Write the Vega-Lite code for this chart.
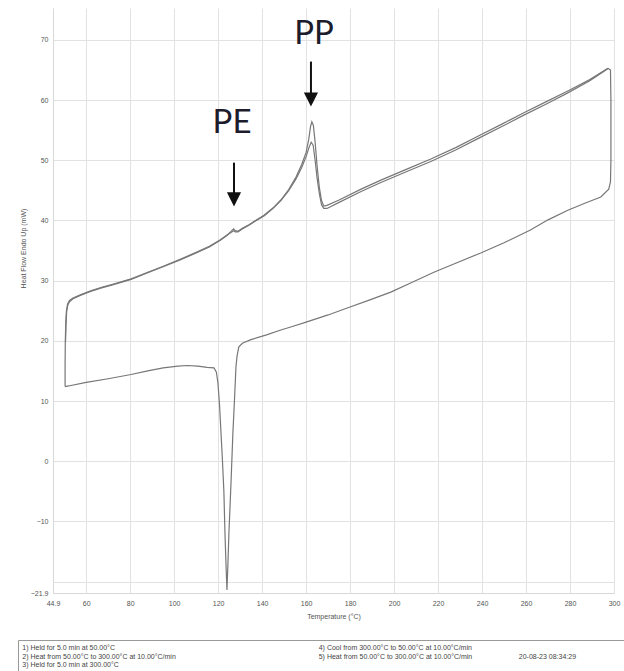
{
  "$schema": "https://vega.github.io/schema/vega-lite/v6.json",
  "padding": {"left": 17, "top": 8, "right": 0, "bottom": 0},
  "autosize": {"type": "pad"},
  "background": "white",
  "spacing": 20,
  "config": {
    "font": "Liberation Sans",
    "view": {"stroke": null},
    "axis": {
      "grid": true, "gridColor": "#e2e2e2", "gridWidth": 1,
      "domainColor": "#d8d8d8", "ticks": false,
      "labelFontSize": 7, "labelColor": "#555", "labelFlush": false, "labelOverlap": false,
      "titleFontSize": 7, "titleFontWeight": "normal", "titleColor": "#555"
    }
  },
  "datasets": {
    "curves": [
      {"seg": "h1", "i": 1, "T": 50.6, "HF": 19.8},
      {"seg": "h1", "i": 2, "T": 50.8, "HF": 22.5},
      {"seg": "h1", "i": 3, "T": 51.1, "HF": 24.8},
      {"seg": "h1", "i": 4, "T": 51.6, "HF": 25.9},
      {"seg": "h1", "i": 5, "T": 52.4, "HF": 26.5},
      {"seg": "h1", "i": 6, "T": 54, "HF": 27.0},
      {"seg": "h1", "i": 7, "T": 57.6, "HF": 27.6},
      {"seg": "h1", "i": 8, "T": 62, "HF": 28.2},
      {"seg": "h1", "i": 9, "T": 67, "HF": 28.8},
      {"seg": "h1", "i": 10, "T": 72, "HF": 29.3},
      {"seg": "h1", "i": 11, "T": 80.4, "HF": 30.2},
      {"seg": "h1", "i": 12, "T": 88, "HF": 31.3},
      {"seg": "h1", "i": 13, "T": 95, "HF": 32.3},
      {"seg": "h1", "i": 14, "T": 103, "HF": 33.5},
      {"seg": "h1", "i": 15, "T": 110, "HF": 34.6},
      {"seg": "h1", "i": 16, "T": 116, "HF": 35.6},
      {"seg": "h1", "i": 17, "T": 121, "HF": 36.7},
      {"seg": "h1", "i": 18, "T": 124, "HF": 37.5},
      {"seg": "h1", "i": 19, "T": 126.2, "HF": 38.3},
      {"seg": "h1", "i": 20, "T": 127, "HF": 38.6},
      {"seg": "h1", "i": 21, "T": 127.8, "HF": 38.3},
      {"seg": "h1", "i": 22, "T": 129, "HF": 38.2},
      {"seg": "h1", "i": 23, "T": 131, "HF": 38.7},
      {"seg": "h1", "i": 24, "T": 134, "HF": 39.3},
      {"seg": "h1", "i": 25, "T": 137, "HF": 40.0},
      {"seg": "h1", "i": 26, "T": 141, "HF": 40.9},
      {"seg": "h1", "i": 27, "T": 145, "HF": 42.1},
      {"seg": "h1", "i": 28, "T": 148.5, "HF": 43.4},
      {"seg": "h1", "i": 29, "T": 152, "HF": 45.1},
      {"seg": "h1", "i": 30, "T": 155.4, "HF": 47.2},
      {"seg": "h1", "i": 31, "T": 158, "HF": 49.3},
      {"seg": "h1", "i": 32, "T": 160, "HF": 51.3},
      {"seg": "h1", "i": 33, "T": 161.2, "HF": 53.5},
      {"seg": "h1", "i": 34, "T": 162, "HF": 55.6},
      {"seg": "h1", "i": 35, "T": 162.6, "HF": 56.4},
      {"seg": "h1", "i": 36, "T": 163.3, "HF": 55.8},
      {"seg": "h1", "i": 37, "T": 164.1, "HF": 53},
      {"seg": "h1", "i": 38, "T": 165, "HF": 49},
      {"seg": "h1", "i": 39, "T": 166, "HF": 45.5},
      {"seg": "h1", "i": 40, "T": 167, "HF": 43.3},
      {"seg": "h1", "i": 41, "T": 168, "HF": 42.4},
      {"seg": "h1", "i": 42, "T": 169.5, "HF": 42.5},
      {"seg": "h1", "i": 43, "T": 175, "HF": 43.4},
      {"seg": "h1", "i": 44, "T": 185, "HF": 45.2},
      {"seg": "h1", "i": 45, "T": 194, "HF": 46.7},
      {"seg": "h1", "i": 46, "T": 205, "HF": 48.4},
      {"seg": "h1", "i": 47, "T": 216.7, "HF": 50.2},
      {"seg": "h1", "i": 48, "T": 228, "HF": 52.1},
      {"seg": "h1", "i": 49, "T": 238.1, "HF": 54.0},
      {"seg": "h1", "i": 50, "T": 249, "HF": 56.0},
      {"seg": "h1", "i": 51, "T": 259, "HF": 57.9},
      {"seg": "h1", "i": 52, "T": 269, "HF": 59.7},
      {"seg": "h1", "i": 53, "T": 279, "HF": 61.5},
      {"seg": "h1", "i": 54, "T": 289, "HF": 63.4},
      {"seg": "h1", "i": 55, "T": 297.2, "HF": 65.3},
      {"seg": "c", "i": 1, "T": 297.2, "HF": 65.3},
      {"seg": "c", "i": 2, "T": 298.4, "HF": 65.0},
      {"seg": "c", "i": 3, "T": 298.6, "HF": 60},
      {"seg": "c", "i": 4, "T": 298.6, "HF": 50},
      {"seg": "c", "i": 5, "T": 298.4, "HF": 46.4},
      {"seg": "c", "i": 6, "T": 297.6, "HF": 45.2},
      {"seg": "c", "i": 7, "T": 294, "HF": 43.9},
      {"seg": "c", "i": 8, "T": 287, "HF": 42.9},
      {"seg": "c", "i": 9, "T": 279, "HF": 41.7},
      {"seg": "c", "i": 10, "T": 270, "HF": 40.1},
      {"seg": "c", "i": 11, "T": 262, "HF": 38.4},
      {"seg": "c", "i": 12, "T": 250, "HF": 36.3},
      {"seg": "c", "i": 13, "T": 239.4, "HF": 34.6},
      {"seg": "c", "i": 14, "T": 228, "HF": 32.9},
      {"seg": "c", "i": 15, "T": 218.1, "HF": 31.4},
      {"seg": "c", "i": 16, "T": 208, "HF": 29.7},
      {"seg": "c", "i": 17, "T": 198.5, "HF": 28.1},
      {"seg": "c", "i": 18, "T": 189, "HF": 26.8},
      {"seg": "c", "i": 19, "T": 179, "HF": 25.5},
      {"seg": "c", "i": 20, "T": 170, "HF": 24.3},
      {"seg": "c", "i": 21, "T": 160, "HF": 23.1},
      {"seg": "c", "i": 22, "T": 153, "HF": 22.3},
      {"seg": "c", "i": 23, "T": 148.5, "HF": 21.8},
      {"seg": "c", "i": 24, "T": 142, "HF": 21.0},
      {"seg": "c", "i": 25, "T": 134.9, "HF": 20.2},
      {"seg": "c", "i": 26, "T": 131, "HF": 19.6},
      {"seg": "c", "i": 27, "T": 129.4, "HF": 19.0},
      {"seg": "c", "i": 28, "T": 128.6, "HF": 17.5},
      {"seg": "c", "i": 29, "T": 128.1, "HF": 15.7},
      {"seg": "c", "i": 30, "T": 127.4, "HF": 10},
      {"seg": "c", "i": 31, "T": 126.7, "HF": 4.7},
      {"seg": "c", "i": 32, "T": 125.8, "HF": -4},
      {"seg": "c", "i": 33, "T": 124.9, "HF": -11.9},
      {"seg": "c", "i": 34, "T": 124.4, "HF": -17.5},
      {"seg": "c", "i": 35, "T": 124.0, "HF": -21.4},
      {"seg": "c", "i": 36, "T": 123.6, "HF": -17.5},
      {"seg": "c", "i": 37, "T": 123.1, "HF": -12},
      {"seg": "c", "i": 38, "T": 122.6, "HF": -5},
      {"seg": "c", "i": 39, "T": 121.9, "HF": 0.5},
      {"seg": "c", "i": 40, "T": 121.3, "HF": 4.7},
      {"seg": "c", "i": 41, "T": 120.6, "HF": 9.5},
      {"seg": "c", "i": 42, "T": 119.9, "HF": 13.0},
      {"seg": "c", "i": 43, "T": 119.2, "HF": 14.8},
      {"seg": "c", "i": 44, "T": 118.1, "HF": 15.5},
      {"seg": "c", "i": 45, "T": 115, "HF": 15.6},
      {"seg": "c", "i": 46, "T": 110.8, "HF": 15.8},
      {"seg": "c", "i": 47, "T": 106, "HF": 15.9},
      {"seg": "c", "i": 48, "T": 101.7, "HF": 15.8},
      {"seg": "c", "i": 49, "T": 95, "HF": 15.5},
      {"seg": "c", "i": 50, "T": 88, "HF": 15.0},
      {"seg": "c", "i": 51, "T": 80.4, "HF": 14.4},
      {"seg": "c", "i": 52, "T": 70, "HF": 13.7},
      {"seg": "c", "i": 53, "T": 60, "HF": 13.1},
      {"seg": "c", "i": 54, "T": 52, "HF": 12.5},
      {"seg": "c", "i": 55, "T": 50.4, "HF": 12.4},
      {"seg": "h2", "i": 1, "T": 50.4, "HF": 12.4},
      {"seg": "h2", "i": 2, "T": 50.4, "HF": 16},
      {"seg": "h2", "i": 3, "T": 50.5, "HF": 20},
      {"seg": "h2", "i": 4, "T": 50.7, "HF": 23},
      {"seg": "h2", "i": 5, "T": 51.0, "HF": 25},
      {"seg": "h2", "i": 6, "T": 51.5, "HF": 26.1},
      {"seg": "h2", "i": 7, "T": 52.4, "HF": 26.7},
      {"seg": "h2", "i": 8, "T": 54, "HF": 27.1},
      {"seg": "h2", "i": 9, "T": 57.6, "HF": 27.7},
      {"seg": "h2", "i": 10, "T": 62, "HF": 28.3},
      {"seg": "h2", "i": 11, "T": 67, "HF": 28.9},
      {"seg": "h2", "i": 12, "T": 72, "HF": 29.4},
      {"seg": "h2", "i": 13, "T": 80.4, "HF": 30.3},
      {"seg": "h2", "i": 14, "T": 88, "HF": 31.4},
      {"seg": "h2", "i": 15, "T": 95, "HF": 32.4},
      {"seg": "h2", "i": 16, "T": 103, "HF": 33.6},
      {"seg": "h2", "i": 17, "T": 110, "HF": 34.7},
      {"seg": "h2", "i": 18, "T": 116, "HF": 35.7},
      {"seg": "h2", "i": 19, "T": 121, "HF": 36.8},
      {"seg": "h2", "i": 20, "T": 124, "HF": 37.6},
      {"seg": "h2", "i": 21, "T": 126.2, "HF": 38.1},
      {"seg": "h2", "i": 22, "T": 127, "HF": 38.3},
      {"seg": "h2", "i": 23, "T": 127.8, "HF": 38.1},
      {"seg": "h2", "i": 24, "T": 129, "HF": 38.1},
      {"seg": "h2", "i": 25, "T": 131, "HF": 38.6},
      {"seg": "h2", "i": 26, "T": 134, "HF": 39.2},
      {"seg": "h2", "i": 27, "T": 137, "HF": 39.9},
      {"seg": "h2", "i": 28, "T": 141, "HF": 40.8},
      {"seg": "h2", "i": 29, "T": 145, "HF": 42.0},
      {"seg": "h2", "i": 30, "T": 148.5, "HF": 43.3},
      {"seg": "h2", "i": 31, "T": 152, "HF": 44.9},
      {"seg": "h2", "i": 32, "T": 155.4, "HF": 46.9},
      {"seg": "h2", "i": 33, "T": 158, "HF": 48.8},
      {"seg": "h2", "i": 34, "T": 160, "HF": 50.6},
      {"seg": "h2", "i": 35, "T": 161.3, "HF": 52.1},
      {"seg": "h2", "i": 36, "T": 162.3, "HF": 53.0},
      {"seg": "h2", "i": 37, "T": 163.2, "HF": 52.5},
      {"seg": "h2", "i": 38, "T": 164.1, "HF": 50},
      {"seg": "h2", "i": 39, "T": 165, "HF": 47},
      {"seg": "h2", "i": 40, "T": 166, "HF": 44.5},
      {"seg": "h2", "i": 41, "T": 167, "HF": 42.6},
      {"seg": "h2", "i": 42, "T": 168, "HF": 42.0},
      {"seg": "h2", "i": 43, "T": 169.5, "HF": 42.0},
      {"seg": "h2", "i": 44, "T": 175, "HF": 43.0},
      {"seg": "h2", "i": 45, "T": 185, "HF": 44.8},
      {"seg": "h2", "i": 46, "T": 194, "HF": 46.3},
      {"seg": "h2", "i": 47, "T": 205, "HF": 48.0},
      {"seg": "h2", "i": 48, "T": 216.7, "HF": 49.8},
      {"seg": "h2", "i": 49, "T": 228, "HF": 51.7},
      {"seg": "h2", "i": 50, "T": 238.1, "HF": 53.6},
      {"seg": "h2", "i": 51, "T": 249, "HF": 55.6},
      {"seg": "h2", "i": 52, "T": 259, "HF": 57.5},
      {"seg": "h2", "i": 53, "T": 269, "HF": 59.3},
      {"seg": "h2", "i": 54, "T": 279, "HF": 61.2},
      {"seg": "h2", "i": 55, "T": 289, "HF": 63.2},
      {"seg": "h2", "i": 56, "T": 297.2, "HF": 65.2}
    ],
    "labels": [
      {"lab": "PP", "T": 163.6, "HF": 69.4},
      {"lab": "PE", "T": 126.3, "HF": 54.6}
    ],
    "arrows": [
      {"lab": "PP", "T": 162.2, "HF1": 66.4, "HF2": 60.9, "tip": 60.1},
      {"lab": "PE", "T": 127.2, "HF1": 49.6, "HF2": 44.3, "tip": 43.5}
    ],
    "notes": [
      {"cx": 0.7, "row": 1, "txt": "1)  Held for 5.0 min at 50.00°C"},
      {"cx": 0.7, "row": 2, "txt": "2)  Heat from 50.00°C to 300.00°C at 10.00°C/min"},
      {"cx": 0.7, "row": 3, "txt": "3)  Held for 5.0 min at 300.00°C"},
      {"cx": 49.3, "row": 1, "txt": "4)  Cool from 300.00°C to 50.00°C at 10.00°C/min"},
      {"cx": 49.3, "row": 2, "txt": "5)  Heat from 50.00°C to 300.00°C at 10.00°C/min"},
      {"cx": 82.1, "row": 2, "txt": "20-08-23 08:34:29"}
    ]
  },
  "vconcat": [
    {
      "width": 596,
      "height": 585,
      "layer": [
        {
          "data": {"name": "curves"},
          "mark": {"type": "line", "color": "#777777", "strokeWidth": 1.2, "clip": true},
          "encoding": {
            "x": {
              "field": "T", "type": "quantitative",
              "scale": {"domain": [44.9, 300], "nice": false, "zero": false, "range": [35, 596]},
              "axis": {
                "values": [44.9, 60, 80, 100, 120, 140, 160, 180, 200, 220, 240, 260, 280, 300],
                "format": ".1~f", "title": "Temperature (°C)",
                "labelPadding": 6, "titlePadding": 6
              }
            },
            "y": {
              "field": "HF", "type": "quantitative",
              "scale": {"domain": [-21.9, 75.3], "nice": false, "zero": false},
              "axis": {
                "values": [-21.9, -20, -10, 0, 10, 20, 30, 40, 50, 60, 70],
                "format": ".1~f",
                "labelExpr": "datum.value == -20 ? '' : datum.label",
                "title": "Heat Flow Endo Up (mW)",
                "offset": -35,
                "labelPadding": 5, "titlePadding": 4, "titleY": 240
              }
            },
            "detail": {"field": "seg"},
            "order": {"field": "i", "type": "quantitative"}
          }
        },
        {
          "data": {"name": "labels"},
          "mark": {"type": "text", "font": "Lato", "fontSize": 33, "color": "#1c1c2c", "baseline": "alphabetic", "align": "center"},
          "encoding": {
            "x": {"field": "T", "type": "quantitative"},
            "y": {"field": "HF", "type": "quantitative"},
            "text": {"field": "lab"}
          }
        },
        {
          "data": {"name": "arrows"},
          "mark": {"type": "rule", "color": "#111", "strokeWidth": 2},
          "encoding": {
            "x": {"field": "T", "type": "quantitative"},
            "y": {"field": "HF1", "type": "quantitative"},
            "y2": {"field": "HF2"}
          }
        },
        {
          "data": {"name": "arrows"},
          "mark": {"type": "point", "shape": "M-1,-1L1,-1L0,1Z", "filled": true, "color": "#111", "opacity": 1, "size": 200},
          "encoding": {
            "x": {"field": "T", "type": "quantitative"},
            "y": {"field": "tip", "type": "quantitative"}
          }
        }
      ]
    },
    {
      "width": 610,
      "height": 33,
      "view": {"stroke": "#999", "strokeWidth": 1},
      "data": {"name": "notes"},
      "mark": {"type": "text", "fontSize": 7, "color": "#444", "align": "left", "baseline": "middle"},
      "encoding": {
        "x": {"field": "cx", "type": "quantitative", "scale": {"domain": [0, 100]}, "axis": null},
        "y": {"field": "row", "type": "quantitative", "scale": {"domain": [0, 4], "reverse": true}, "axis": null},
        "text": {"field": "txt"}
      }
    }
  ]
}
